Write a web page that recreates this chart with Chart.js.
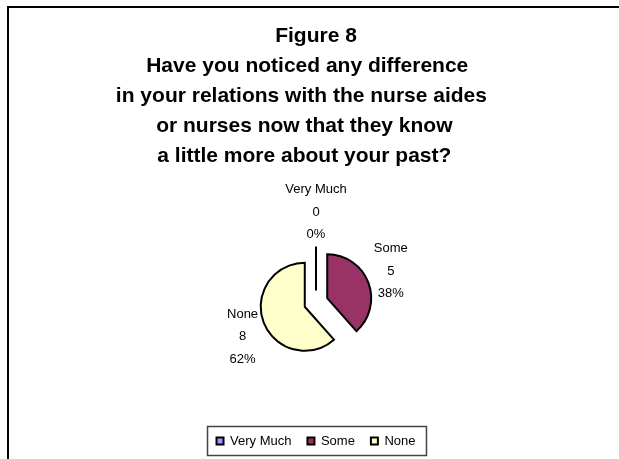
<!DOCTYPE html>
<html>
<head>
<meta charset="utf-8">
<script src="https://cdn.jsdelivr.net/npm/chart.js@4/dist/chart.umd.min.js"></script>
<style>
    html, body { margin: 0; padding: 0; overflow: hidden; background: #fff; }
    #frame {
        position: absolute; left: 7px; top: 6px;
        width: 1000px; height: 1000px;
        border: 2px solid #000;
    }
    #grafico { position: absolute; left: 0; top: 0; }
</style>
</head>
<body>
<div id="frame"></div>
<canvas id="grafico" width="619" height="459"></canvas>
<script>
const categorias = ["Very Much", "Some", "None"];
const respostas = [0, 5, 8];
const cores = ["#9999FF", "#993366", "#FFFFCC"];
// trailing blanks kept as typed in the original title
const titulo = [
    "Figure 8",
    "Have you noticed any difference   ",
    "in your relations with the nurse aides     ",
    "or nurses now that they know    ",
    "a little more about your past?    "
];

const fonte = "'Liberation Sans', Arial, sans-serif";
const afastamento = 12;   // how far each slice is pulled out

// pie slices pulled away from the centre, the empty slice shows as a single edge
const fatiasSeparadas = {
    id: "fatiasSeparadas",
    beforeDatasetDraw(chart, args) {
        const ctx = chart.ctx;
        args.meta.data.forEach((arc) => {
            const meio = (arc.startAngle + arc.endAngle) / 2;
            const dx = Math.cos(meio) * afastamento;
            const dy = Math.sin(meio) * afastamento;
            ctx.save();
            if (arc.endAngle - arc.startAngle === 0) {
                ctx.strokeStyle = "#000";
                ctx.lineWidth = 2;
                ctx.beginPath();
                ctx.moveTo(arc.x + dx, arc.y + dy);
                ctx.lineTo(arc.x + dx + Math.cos(arc.startAngle) * arc.outerRadius,
                           arc.y + dy + Math.sin(arc.startAngle) * arc.outerRadius);
                ctx.stroke();
            } else {
                ctx.translate(dx, dy);
                arc.draw(ctx, chart.chartArea);
            }
            ctx.restore();
        });
        return false;
    }
};

// name, count and percent outside every slice
const rotulos = {
    id: "rotulos",
    afterDatasetsDraw(chart) {
        const ctx = chart.ctx;
        const meta = chart.getDatasetMeta(0);
        const total = respostas.reduce((a, b) => a + b, 0);
        const alturaLinha = 22.5;
        ctx.save();
        ctx.font = "13px " + fonte;
        ctx.fillStyle = "#000";
        ctx.textAlign = "center";
        ctx.textBaseline = "middle";
        meta.data.forEach((arc, i) => {
            const linhas = [
                categorias[i],
                String(respostas[i]),
                Math.round(respostas[i] / total * 100) + "%"
            ];
            const meioL = Math.max(...linhas.map(t => ctx.measureText(t).width)) / 2;
            const meioA = alturaLinha + 6.5;
            const ang = (arc.startAngle + arc.endAngle) / 2;
            const r = arc.outerRadius + afastamento + 7;
            const cx = arc.x + Math.cos(ang) * (r + meioL);
            const cy = arc.y + Math.sin(ang) * r + Math.sin(ang) * meioA + 1.5;
            linhas.forEach((t, k) => {
                ctx.fillText(t, cx, cy + (k - 1) * alturaLinha);
            });
        });
        ctx.restore();
    }
};

// thin box around the legend
const caixaLegenda = {
    id: "caixaLegenda",
    afterDraw(chart) {
        const caixas = chart.legend.legendHitBoxes;
        if (!caixas || !caixas.length) return;
        const ultimo = caixas[caixas.length - 1];
        const yc = caixas[0].top + caixas[0].height / 2;
        const esq = caixas[0].left - 9;
        const ctx = chart.ctx;
        ctx.save();
        ctx.strokeStyle = "#444";
        ctx.lineWidth = 1.5;
        ctx.strokeRect(esq, yc - 14.5, ultimo.left + ultimo.width + 11 - esq, 29);
        ctx.restore();
    }
};

function criarGrafico() {
    const canvas = document.getElementById("grafico");

    new Chart(canvas, {
        type: "pie",
        data: {
            labels: categorias,
            datasets: [
                {
                    data: respostas,
                    backgroundColor: cores,
                    borderColor: "#000",
                    borderWidth: 2,
                    borderJoinStyle: "miter",
                    radius: 44
                }
            ]
        },
        options: {
            responsive: false,
            animation: false,
            layout: { padding: { left: 13, right: 0, top: 0, bottom: 1.5 } },
            plugins: {
                title: {
                    display: true,
                    text: titulo,
                    color: "#000",
                    font: { family: fonte, size: 21, weight: "bold", lineHeight: 30 / 21 },
                    padding: { top: 21, bottom: 15.5 }
                },
                legend: {
                    position: "bottom",
                    labels: {
                        color: "#000",
                        font: { family: fonte, size: 13 },
                        boxWidth: 7,
                        boxHeight: 7,
                        padding: 16
                    }
                },
                tooltip: { enabled: false }
            }
        },
        plugins: [fatiasSeparadas, rotulos, caixaLegenda]
    });
}

window.onload = criarGrafico;
</script>
</body>
</html>
